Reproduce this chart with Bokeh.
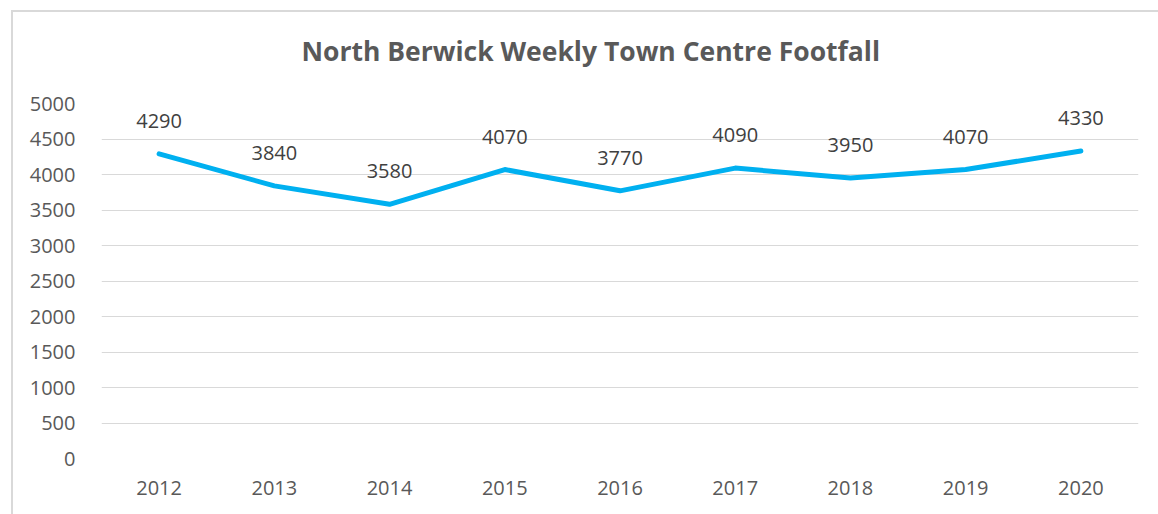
from bokeh.plotting import figure
from bokeh.models import ColumnDataSource, FixedTicker, Range1d, Title
from bokeh.core.properties import value
from bokeh.embed import file_html
from bokeh.resources import INLINE

years = [2012, 2013, 2014, 2015, 2016, 2017, 2018, 2019, 2020]
footfall = [4290, 3840, 3580, 4070, 3770, 4090, 3950, 4070, 4330]
labels = [str(v) for v in footfall]
y_ticks = [0, 500, 1000, 1500, 2000, 2500, 3000, 3500, 4000, 4500, 5000]
title_text = "North Berwick Weekly Town Centre Footfall"

FONT = "Open Sans"

src = ColumnDataSource(dict(x=years, y=footfall, label=labels))

p = figure(
    frame_width=1037, frame_height=355,
    min_border_left=88, min_border_right=21, min_border_top=91, min_border_bottom=57,
    x_range=Range1d(2011.5, 2020.5), y_range=Range1d(0, 5000),
    output_backend="svg", toolbar_location=None,
)
p.margin = (10, 0, 0, 11)
p.styles = {"border-top": "2px solid #d9d9d9", "border-left": "2px solid #d9d9d9"}
p.outline_line_color = None
p.background_fill_color = "white"
p.border_fill_color = "white"

# spacer between title and plot frame
p.add_layout(Title(text=" ", text_font_size="1px", standoff=14), "above")

p.title.text = title_text
p.title.align = "left"
p.title.offset = 200
p.title.standoff = 36
p.title.text_font = FONT
p.title.text_font_size = "26.5px"
p.title.text_font_style = "bold"
p.title.text_color = "#595959"

p.xgrid.grid_line_color = None
p.ygrid.grid_line_color = "#d9d9d9"
p.ygrid.grid_line_width = 1

p.yaxis.ticker = FixedTicker(ticks=y_ticks)
p.xaxis.ticker = FixedTicker(ticks=years)
for ax in (p.xaxis, p.yaxis):
    ax.axis_line_color = None
    ax.major_tick_line_color = None
    ax.minor_tick_line_color = None
    ax.major_label_text_font = FONT
    ax.major_label_text_font_size = "20px"
    ax.major_label_text_color = "#595959"
p.yaxis.major_label_standoff = 20
p.xaxis.major_label_standoff = 16

p.line("x", "y", source=src, line_color="#00B0F0", line_width=5, line_join="round", line_cap="round")
p.text("x", "y", text="label", source=src, text_align="center", text_baseline="middle",
       y_offset=-33, text_font=value(FONT), text_font_size="20px", text_color="#404040")

open("out.html", "w").write(file_html(p, INLINE))
